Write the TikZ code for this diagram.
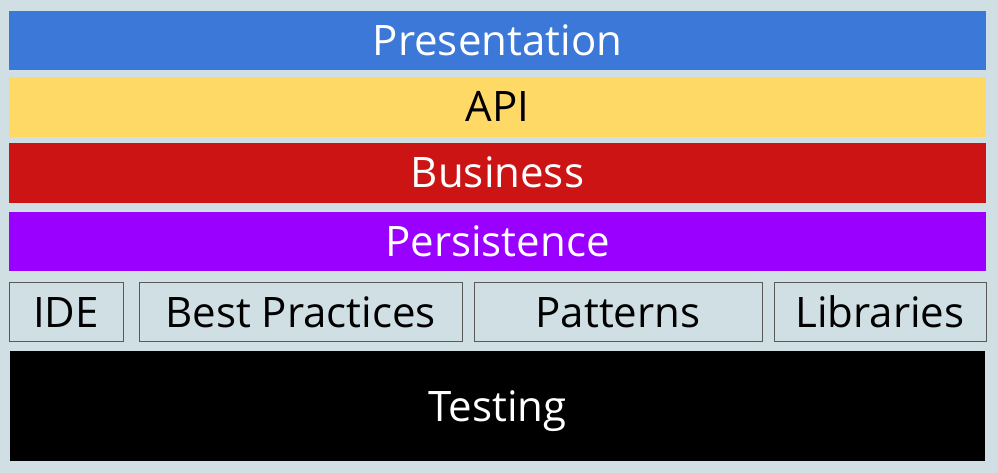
\documentclass[tikz,border=0pt]{standalone}
\usepackage{fontspec}
\setmainfont{Open Sans}
\definecolor{bgcol}{HTML}{D0DFE4}
\definecolor{presblue}{HTML}{3C78D8}
\definecolor{apiyellow}{HTML}{FFD966}
\definecolor{busred}{HTML}{CC1414}
\definecolor{perspurple}{HTML}{9900FF}
\begin{document}
\begin{tikzpicture}[x=1pt,y=-1pt,inner sep=0pt,
    layer/.style={rectangle,minimum width=977pt,minimum height=59pt,text height=30pt,text depth=0pt,font=\fontsize{42}{48}\selectfont},
    tool/.style={rectangle,draw=black!65,line width=1pt,fill=bgcol,minimum height=59pt,text height=30pt,text depth=0pt,font=\fontsize{42}{48}\selectfont}]
    \fill [bgcol] (0,0) rectangle (998,473);
    \useasboundingbox (0,0) rectangle (998,473);
    %layers
    \node (pres) at (497.5,40.5) [layer,fill=presblue,text=white]{Presentation};
    \node (api) at (497.5,107) [layer,fill=apiyellow,minimum height=60pt]{API};
    \node (bus) at (497.5,173) [layer,fill=busred,text=white,minimum height=60pt]{Business};
    \node (pers) at (497.5,241.5) [layer,fill=perspurple,text=white]{Persistence};
    
    %tools
    \node (ide) at (66,312) [tool,minimum width=114pt]{IDE};
    \node (best) at (300.5,312) [tool,minimum width=323pt]{Best Practices};
    \node (patt) at (618,312) [tool,minimum width=288pt]{Patterns};
    \node (libs) at (880,312) [tool,minimum width=212pt]{Libraries};
    
    \node (test) at (497.5,406) [layer,fill=black,text=white,minimum width=975pt,minimum height=110pt]{Testing};
     
 \end{tikzpicture}
\end{document}
